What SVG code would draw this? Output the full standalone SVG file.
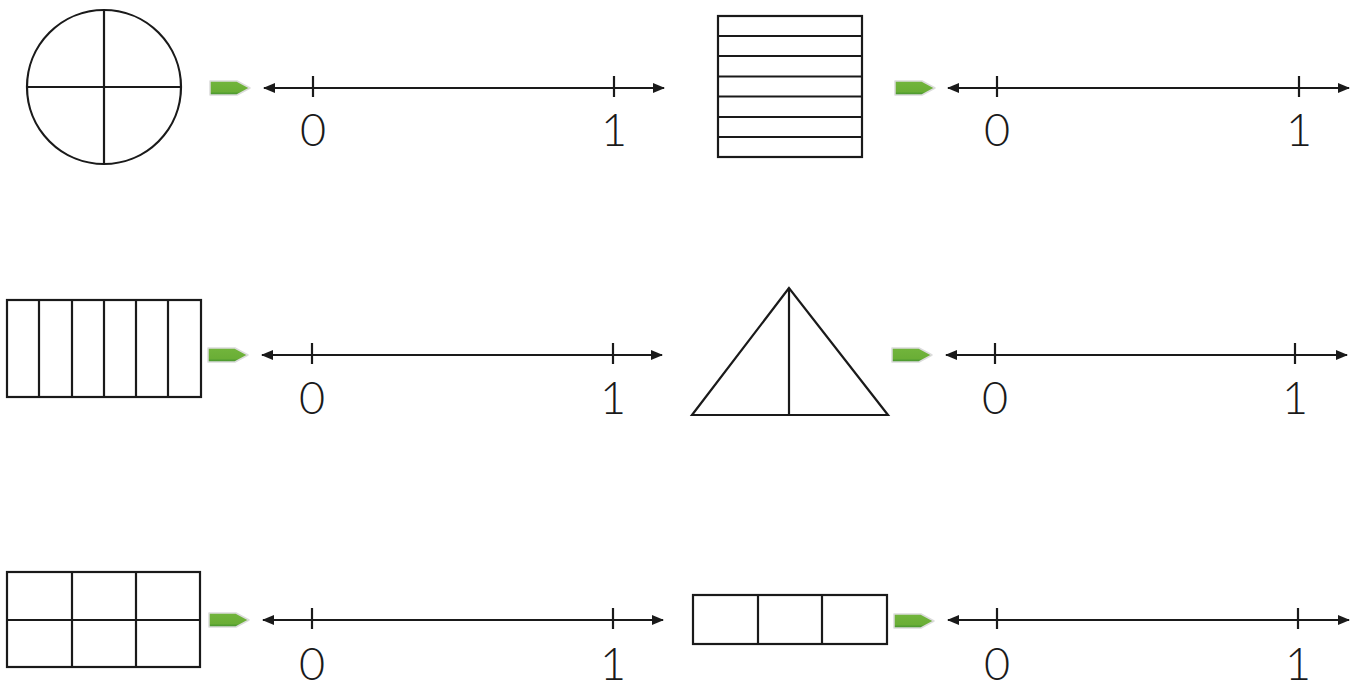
<svg xmlns="http://www.w3.org/2000/svg" width="1367" height="680" viewBox="0 0 1367 680">
<style>
.sh{fill:#fff;stroke:#1a1a1a;stroke-width:2.2}
.ln{fill:none;stroke:#1a1a1a;stroke-width:2.2}
.nl{stroke:#1a1a1a;stroke-width:2.2;marker-start:url(#ah);marker-end:url(#ah)}
.tk{stroke:#1a1a1a;stroke-width:2.2}
.lb{font-family:Lato,"Open Sans","DejaVu Sans",sans-serif;font-weight:300;font-size:45px;fill:#1a1a1a;text-anchor:middle}
.tag{fill:url(#tg);stroke:#dcdcdc;stroke-width:1.5;stroke-linejoin:round}
</style>
<defs>
<marker id="ah" viewBox="0 0 12 10" refX="11" refY="5" markerWidth="12" markerHeight="10" markerUnits="userSpaceOnUse" orient="auto-start-reverse">
<path d="M0,0 L12,5 L0,10 Z" fill="#1a1a1a"/>
</marker>
<linearGradient id="tg" x1="0" y1="0" x2="0" y2="1">
<stop offset="0" stop-color="#72b53c"/>
<stop offset="0.75" stop-color="#6aae36"/>
<stop offset="1" stop-color="#3d8f2e"/>
</linearGradient>
<g id="tagshape"><path class="tag" d="M0,-7 H27 L40,0 L27,7 H0 Z"/></g>
</defs>
<rect width="1367" height="680" fill="#fff"/>

<g id="circle">
<circle class="sh" cx="104" cy="87" r="77"/>
<line class="ln" x1="27" y1="87" x2="181" y2="87"/>
<line class="ln" x1="104" y1="10" x2="104" y2="164"/>
</g>

<g id="stripes">
<rect class="sh" x="718" y="16" width="144" height="141"/>
<path class="ln" d="M718,36 H862 M718,56 H862 M718,76.5 H862 M718,96.5 H862 M718,117 H862 M718,137 H862"/>
</g>

<g id="cols6">
<rect class="sh" x="7" y="300" width="194" height="97"/>
<path class="ln" d="M39,300 V397 M72,300 V397 M104,300 V397 M136,300 V397 M168,300 V397"/>
</g>

<g id="triangle">
<path class="sh" d="M789,288 L692,415 L888,415 Z" stroke-linejoin="miter"/>
<line class="ln" x1="789" y1="288" x2="789" y2="415"/>
</g>

<g id="grid6">
<rect class="sh" x="7" y="572" width="193" height="95"/>
<path class="ln" d="M7,620 H200 M72,572 V667 M136,572 V667"/>
</g>

<g id="cols3">
<rect class="sh" x="693" y="595" width="194" height="49"/>
<path class="ln" d="M758,595 V644 M822,595 V644"/>
</g>

<g id="tags">
<use href="#tagshape" x="210" y="88"/>
<use href="#tagshape" x="895" y="88"/>
<use href="#tagshape" x="208" y="355"/>
<use href="#tagshape" x="892" y="355"/>
<use href="#tagshape" x="209" y="620"/>
<use href="#tagshape" x="894" y="621"/>
</g>

<g id="connectors">
<line class="nl" x1="264" y1="88" x2="664" y2="88"/>
<line class="tk" x1="313" y1="76" x2="313" y2="97"/>
<line class="tk" x1="614" y1="76" x2="614" y2="97"/>

<line class="nl" x1="948" y1="88" x2="1349" y2="88"/>
<line class="tk" x1="997" y1="76" x2="997" y2="97"/>
<line class="tk" x1="1299" y1="76" x2="1299" y2="97"/>

<line class="nl" x1="262" y1="355" x2="662" y2="355"/>
<line class="tk" x1="312" y1="343" x2="312" y2="364"/>
<line class="tk" x1="613" y1="343" x2="613" y2="364"/>

<line class="nl" x1="946" y1="355" x2="1347" y2="355"/>
<line class="tk" x1="995" y1="343" x2="995" y2="364"/>
<line class="tk" x1="1295" y1="343" x2="1295" y2="364"/>

<line class="nl" x1="263" y1="620" x2="663" y2="620"/>
<line class="tk" x1="312" y1="608" x2="312" y2="629"/>
<line class="tk" x1="613" y1="608" x2="613" y2="629"/>

<line class="nl" x1="948" y1="620" x2="1349" y2="620"/>
<line class="tk" x1="997" y1="608" x2="997" y2="629"/>
<line class="tk" x1="1298" y1="608" x2="1298" y2="629"/>
</g>

<g id="labels">
<text class="lb" x="313" y="146">0</text>
<text class="lb" x="614" y="146">1</text>
<text class="lb" x="997" y="146">0</text>
<text class="lb" x="1299" y="146">1</text>
<text class="lb" x="312" y="414">0</text>
<text class="lb" x="613" y="414">1</text>
<text class="lb" x="995" y="414">0</text>
<text class="lb" x="1295" y="414">1</text>
<text class="lb" x="312" y="680">0</text>
<text class="lb" x="613" y="680">1</text>
<text class="lb" x="997" y="680">0</text>
<text class="lb" x="1298" y="680">1</text>
</g>
</svg>
